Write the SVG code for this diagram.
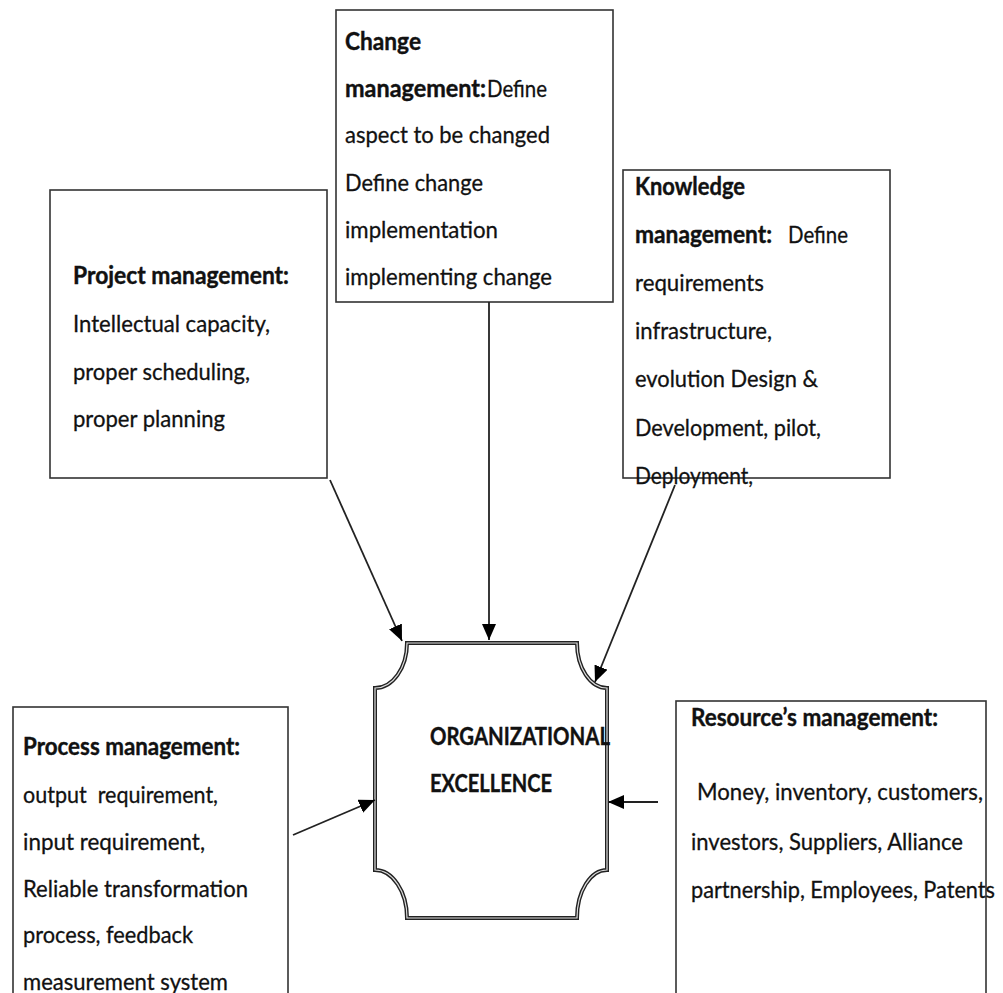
<svg xmlns="http://www.w3.org/2000/svg" width="1003" height="993" viewBox="0 0 1003 993">
<defs>
<style>
.box{fill:#fff;stroke:#333;stroke-width:1.6}
.t{font-family:Lato,"Liberation Sans",sans-serif;font-size:24px;fill:#111;stroke:#111;stroke-width:0.3}
.b{font-weight:bold;stroke-width:0.4}
.conn{stroke:#222;stroke-width:1.8;fill:none}
</style>
<marker id="ah" markerUnits="userSpaceOnUse" markerWidth="18" markerHeight="14" refX="16" refY="7" orient="auto">
<path d="M0,0 L16,7 L0,14 Z" fill="#000"/>
</marker>
</defs>
<rect width="1003" height="993" fill="#fff"/>

<g id="change">
<rect class="box" x="336" y="10" width="277" height="292"/>
<text class="t b" x="345" y="50" textLength="76" lengthAdjust="spacingAndGlyphs">Change</text>
<text class="t b" x="345" y="97" textLength="141" lengthAdjust="spacingAndGlyphs">management:</text>
<text class="t" x="487" y="97" textLength="60" lengthAdjust="spacingAndGlyphs">Define</text>
<text class="t" x="345" y="143" textLength="205" lengthAdjust="spacingAndGlyphs">aspect to be changed</text>
<text class="t" x="345" y="191" textLength="138" lengthAdjust="spacingAndGlyphs">Define change</text>
<text class="t" x="345" y="238" textLength="153" lengthAdjust="spacingAndGlyphs">implementation</text>
<text class="t" x="345" y="285" textLength="207" lengthAdjust="spacingAndGlyphs">implementing change</text>
</g>

<g id="project">
<rect class="box" x="50" y="190" width="277" height="288"/>
<text class="t b" x="73" y="284" textLength="216" lengthAdjust="spacingAndGlyphs">Project management:</text>
<text class="t" x="73" y="332" textLength="197" lengthAdjust="spacingAndGlyphs">Intellectual capacity,</text>
<text class="t" x="73" y="380" textLength="177" lengthAdjust="spacingAndGlyphs">proper scheduling,</text>
<text class="t" x="73" y="427" textLength="152" lengthAdjust="spacingAndGlyphs">proper planning</text>
</g>

<g id="knowledge">
<rect class="box" x="623" y="170" width="267" height="308"/>
<text class="t b" x="635" y="195" textLength="110" lengthAdjust="spacingAndGlyphs">Knowledge</text>
<text class="t b" x="635" y="243" textLength="137" lengthAdjust="spacingAndGlyphs">management:</text>
<text class="t" x="788" y="243" textLength="60" lengthAdjust="spacingAndGlyphs">Define</text>
<text class="t" x="635" y="291" textLength="129" lengthAdjust="spacingAndGlyphs">requirements</text>
<text class="t" x="635" y="339" textLength="137" lengthAdjust="spacingAndGlyphs">infrastructure,</text>
<text class="t" x="635" y="387" textLength="183" lengthAdjust="spacingAndGlyphs">evolution Design &amp;</text>
<text class="t" x="635" y="436" textLength="186" lengthAdjust="spacingAndGlyphs">Development, pilot,</text>
<text class="t" x="635" y="484" textLength="118" lengthAdjust="spacingAndGlyphs">Deployment,</text>
</g>

<g id="process">
<rect class="box" x="13" y="707" width="275" height="300"/>
<text class="t b" x="23" y="755" textLength="217" lengthAdjust="spacingAndGlyphs">Process management:</text>
<text class="t" x="23" y="803" textLength="195" lengthAdjust="spacingAndGlyphs">output&#160; requirement,</text>
<text class="t" x="23" y="850" textLength="182" lengthAdjust="spacingAndGlyphs">input requirement,</text>
<text class="t" x="23" y="897" textLength="225" lengthAdjust="spacingAndGlyphs">Reliable transformation</text>
<text class="t" x="23" y="943" textLength="170" lengthAdjust="spacingAndGlyphs">process, feedback</text>
<text class="t" x="23" y="990" textLength="205" lengthAdjust="spacingAndGlyphs">measurement system</text>
</g>

<g id="resource">
<rect class="box" x="676" y="701" width="310" height="310"/>
<text class="t b" x="691" y="726" textLength="247" lengthAdjust="spacingAndGlyphs">Resource’s management:</text>
<text class="t" x="697" y="800" textLength="286" lengthAdjust="spacingAndGlyphs">Money, inventory, customers,</text>
<text class="t" x="691" y="850" textLength="272" lengthAdjust="spacingAndGlyphs">investors, Suppliers, Alliance</text>
<text class="t" x="691" y="898" textLength="304" lengthAdjust="spacingAndGlyphs">partnership, Employees, Patents</text>
</g>

<g id="excellence">
<path d="M407,643 L577,643 A30,45 0 0 0 607,688 L607,870 A30,48 0 0 0 577,918 L407,918 A32,48 0 0 0 375,870 L375,688 A32,45 0 0 0 407,643 Z" fill="#fff" stroke="#222" stroke-width="4"/>
<path d="M407,643 L577,643 A30,45 0 0 0 607,688 L607,870 A30,48 0 0 0 577,918 L407,918 A32,48 0 0 0 375,870 L375,688 A32,45 0 0 0 407,643 Z" fill="none" stroke="#ddd" stroke-width="1.2"/>
<text class="t b" x="430" y="745" font-size="25" textLength="180" lengthAdjust="spacingAndGlyphs">ORGANIZATIONAL</text>
<text class="t b" x="430" y="792" font-size="25" textLength="122" lengthAdjust="spacingAndGlyphs">EXCELLENCE</text>
</g>

<g id="connectors">
<line class="conn" x1="330" y1="480" x2="402" y2="641" marker-end="url(#ah)"/>
<line class="conn" x1="489" y1="302" x2="489" y2="640" marker-end="url(#ah)"/>
<line class="conn" x1="675" y1="485" x2="595" y2="682" marker-end="url(#ah)"/>
<line class="conn" x1="293" y1="835" x2="375" y2="800" marker-end="url(#ah)"/>
<line class="conn" x1="658" y1="802" x2="608" y2="802" marker-end="url(#ah)"/>
</g>
</svg>
